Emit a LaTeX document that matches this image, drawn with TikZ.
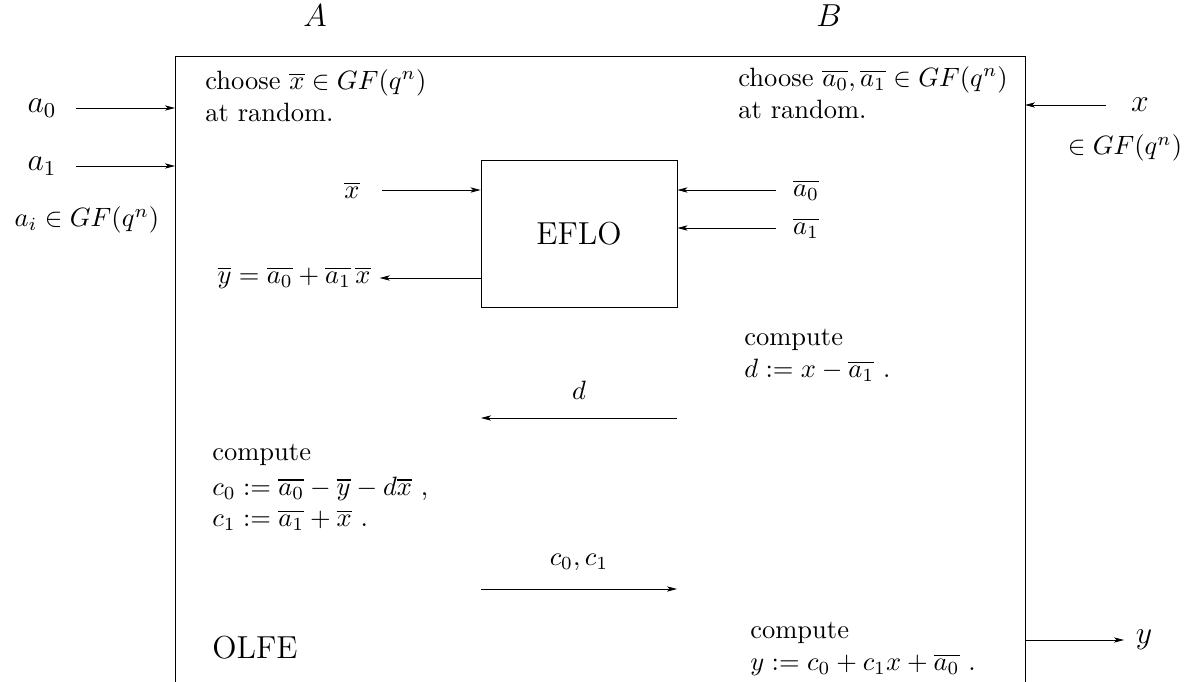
\documentclass[tikz,border=0pt]{standalone}
\usepackage{amsmath,amssymb}
\usepackage{tikz}
\usetikzlibrary{arrows.meta,positioning}

\begin{document}
\begin{tikzpicture}[x=0.3774pt, y=-0.3774pt, line width=0.3pt,
  party/.style={font=\large, inner sep=0pt},
  big/.style={font=\large},
  txt/.style={align=left, inner sep=0pt, anchor=north west},
  box/.style={draw, font=\large, minimum width=74pt, minimum height=55.5pt},
  arr/.style={-{Stealth[length=3.8pt,width=2pt,inset=1pt]}}
]
\useasboundingbox (0,0) rectangle (1198,682);
% frame of the protocol
\coordinate (tl) at (175,56);
\coordinate (tr) at (1025,56);
\coordinate (bl) at (175,682);
\coordinate (br) at (1025,682);
\draw (bl) -- (tl) -- (tr) -- (br);
\node[party] (partyA) at (315,16) {$A$};
\node[party] (partyB) at (829,16) {$B$};
% inputs and output
\node[big] (a0) at (42,108) {$a_0$};
\node[big] (a1) at (42,166) {$a_1$};
\node (ai) at (87,220) {$a_i\in GF(q^n)$};
\node[big] (xin) at (1140,105) {$x$};
\node (xdom) at (1125,148) {$\in GF(q^n)$};
\node[big] (yout) at (1144,640) {$y$};
\draw[arr, shorten <=4pt] (a0) -- (a0 -| tl);
\draw[arr, shorten <=4pt] (a1) -- (a1 -| tl);
\draw[arr, shorten <=6pt] (xin) -- (xin -| tr);
\draw[arr, shorten >=1pt] (yout -| tr) -- (yout);
% the EFLO box
\node[box] (eflo) at (579,233.5) {EFLO};
\node (xbar) at (352,190) {$\overline{x}$};
\node (abar0) at (806,190) {$\overline{a_0}$};
\node (abar1) at (806,228) {$\overline{a_1}$};
\node (ybar) at (294,278) {$\overline{y}=\overline{a_0}+\overline{a_1}\,\overline{x}$};
\draw[arr, shorten <=5pt] (xbar) -- (xbar -| eflo.west);
\draw[arr, shorten <=3pt] (abar0) -- (abar0 -| eflo.east);
\draw[arr, shorten <=3pt] (abar1) -- (abar1 -| eflo.east);
\draw[arr] (ybar -| eflo.west) -- (ybar);
% local computations
\node[txt] (chooseA) at (205,69) {choose $\overline{x}\in GF(q^n)$\\at random.};
\node[txt] (chooseB) at (738,66) {choose $\overline{a_0},\overline{a_1}\in GF(q^n)$\\at random.};
\node[txt] (compD) at (744,329) {compute\\$d:=x-\overline{a_1}$\ .};
\node[txt] (compC) at (212,444) {compute\\[1pt]$c_0:=\overline{a_0}-\overline{y}-d\overline{x}$\ ,\\$c_1:=\overline{a_1}+\overline{x}$\ .};
\node[txt] (compY) at (750,622) {compute\\$y:=c_0+c_1x+\overline{a_0}$\ .};
\node[big] (olfe) at (255,648) {OLFE};
% messages
\coordinate (dR) at (677,418);
\coordinate (dL) at (481,418);
\coordinate (cL) at (481,589);
\coordinate (cR) at (677,589);
\draw[arr] (dR) -- node[above=3.5pt] (dmsg) {$d$} (dL);
\draw[arr] (cL) -- node[above=3.5pt] (cmsg) {$c_0,c_1$} (cR);
\end{tikzpicture}
\end{document}
